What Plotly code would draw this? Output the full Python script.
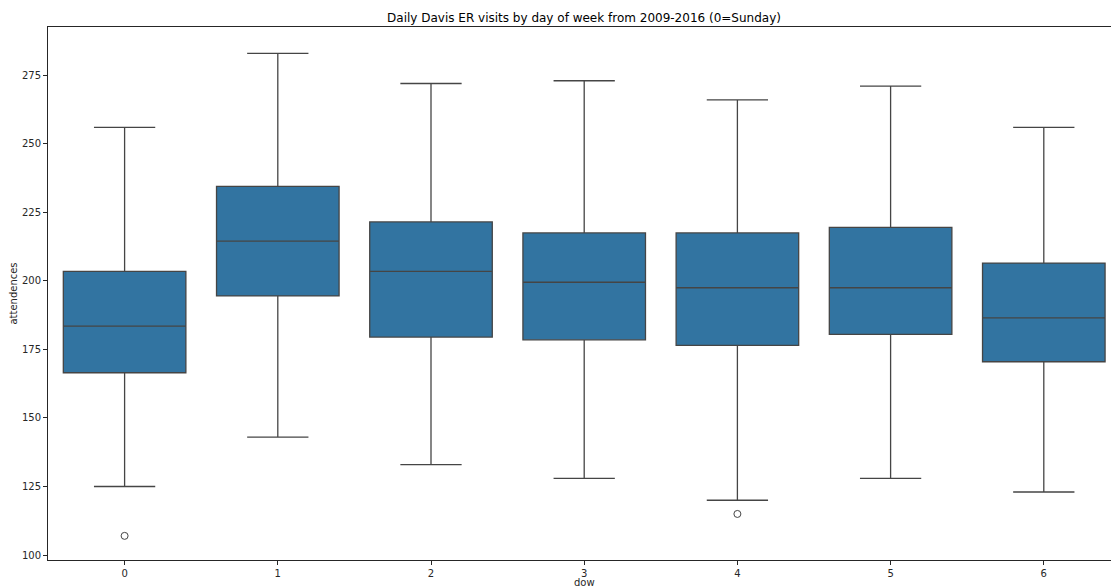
import plotly.graph_objects as go

# Daily ER attendance summary per day of week (0=Sunday)
dow = [0, 1, 2, 3, 4, 5, 6]
lower_whisker = [125, 143, 133, 128, 120, 128, 123]
q1 = [166.5, 194.5, 179.5, 178.5, 176.5, 180.5, 170.5]
median = [183.5, 214.5, 203.5, 199.5, 197.5, 197.5, 186.5]
q3 = [203.5, 234.5, 221.5, 217.5, 217.5, 219.5, 206.5]
upper_whisker = [256, 283, 272, 273, 266, 271, 256]

outlier_dow = [0, 4]
outlier_values = [107, 115]

tick_labels = [str(d) for d in dow]
y_ticks = [100, 125, 150, 175, 200, 225, 250, 275]

BOX_FILL = "#3274a1"
LINE = "#454545"
AXIS = "#262626"
FONT = "DejaVu Sans, Liberation Sans, sans-serif"

fig = go.Figure()
fig.add_trace(go.Box(
    x=dow,
    q1=q1,
    median=median,
    q3=q3,
    lowerfence=lower_whisker,
    upperfence=upper_whisker,
    width=0.8,
    whiskerwidth=0.5,
    fillcolor=BOX_FILL,
    line=dict(color=LINE, width=1.3),
    boxpoints=False,
    showlegend=False,
    hoverinfo="skip",
))
fig.add_trace(go.Scatter(
    x=outlier_dow,
    y=outlier_values,
    mode="markers",
    marker=dict(symbol="circle-open", size=7, color=LINE, line=dict(width=1)),
    showlegend=False,
    hoverinfo="skip",
))

x_end = -0.5 + (1111 - 48) / 153.2

fig.update_layout(
    width=1111,
    height=588,
    margin=dict(l=48, r=0, t=27, b=28),
    paper_bgcolor="white",
    plot_bgcolor="white",
    font=dict(family=FONT, size=10, color=AXIS),
    title=dict(
        text="Daily Davis ER visits by day of week from 2009-2016 (0=Sunday)",
        xref="container", yref="container",
        x=584 / 1111, y=1 - 18 / 588,
        xanchor="center", yanchor="middle",
        font=dict(family=FONT, size=12, color="black"),
    ),
    xaxis=dict(
        type="linear",
        range=[-0.5, x_end],
        tickmode="array",
        tickvals=dow,
        ticktext=tick_labels,
        showgrid=False,
        zeroline=False,
        showline=True,
        linecolor=AXIS,
        linewidth=1,
        mirror=True,
        ticks="outside",
        ticklen=4,
        tickcolor=AXIS,
        tickfont=dict(size=10, color=AXIS),
    ),
    yaxis=dict(
        range=[98.2, 292.6],
        tickmode="array",
        tickvals=y_ticks,
        showgrid=False,
        zeroline=False,
        showline=True,
        linecolor=AXIS,
        linewidth=1,
        ticks="outside",
        ticklen=4,
        tickcolor=AXIS,
        tickfont=dict(size=10, color=AXIS),
        title=dict(text="attendences", font=dict(size=10, color=AXIS), standoff=2),
    ),
    annotations=[dict(
        text="dow",
        xref="paper", yref="paper",
        x=(584 - 48) / 1063, y=0,
        xanchor="center", yanchor="middle",
        yshift=-22,
        showarrow=False,
        font=dict(family=FONT, size=10, color=AXIS),
    )],
)

fig.write_html("out.html")
